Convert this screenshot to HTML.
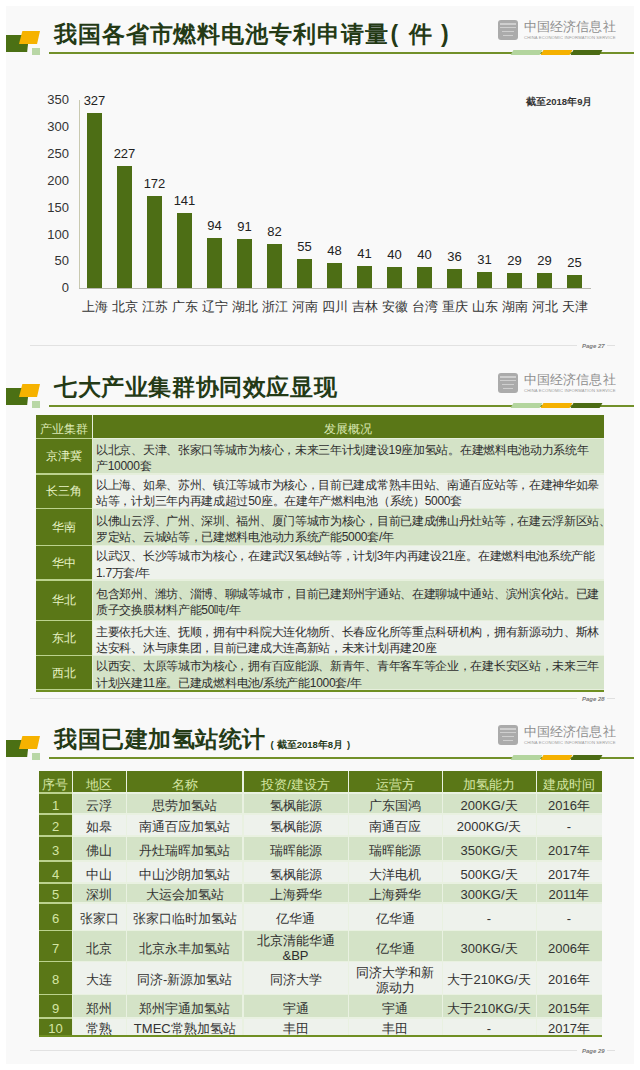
<!DOCTYPE html><html><head><meta charset="utf-8"><style>
*{margin:0;padding:0;box-sizing:border-box}
html,body{width:640px;height:1070px;background:#fff;overflow:hidden;font-family:"Liberation Sans", sans-serif}
.a{position:absolute}
.slide{position:absolute;left:6px;width:628px;height:353px;background:#f9f9f9}
.t{position:absolute;white-space:nowrap;line-height:1}
.title{position:absolute;left:48px;top:13px;font-size:23px;font-weight:900;letter-spacing:0.9px;color:#243a16;white-space:nowrap;line-height:30px}
.uline{position:absolute;left:43px;top:46.2px;width:585px;height:1.8px;background:#72902a}
.seg{position:absolute;top:44px;height:5px;transform:skewX(-30deg)}
.lg1{position:absolute;left:0;top:29px;width:23px;height:17px;background:#4b7014;clip-path:polygon(0 0,100% 0,92% 100%,0 100%)}
.lg2{position:absolute;left:13px;top:25px;width:21px;height:13px;background:#f6b200;clip-path:polygon(16% 0,100% 0,86% 100%,0 100%)}
.lg3{position:absolute;left:25.5px;top:41.5px;width:8px;height:7.5px;background:#b9d7a6}
.ceis{position:absolute;left:492px;top:13.7px;width:20px;height:20.8px;border-radius:3px;background:#ababab;overflow:hidden}
.ceis i{position:absolute;left:2px;width:16px;height:2px;background:#cfcfcf}
.ceis-t{position:absolute;left:518px;top:13px;font-size:12.5px;color:#8e8e8e;letter-spacing:0.1px;white-space:nowrap;line-height:16px;font-weight:300}
.ceis-s{position:absolute;left:518px;top:28.5px;font-size:4.2px;color:#9a9a9a;white-space:nowrap;letter-spacing:0.15px;line-height:5px}
.foot{position:absolute;left:24px;top:339px;width:547px;height:1px;background:#e2e2e2}
.nocjk .z{font-size:133.33%;vertical-align:-0.05em;-webkit-text-stroke:0.015em currentColor}
.nocjk .zp{font-size:133.33%;color:transparent;-webkit-text-stroke:0}
.nocjk .title .z{-webkit-text-stroke:0.07em currentColor}
.page{position:absolute;left:576px;top:335.5px;font-size:6px;color:#7a7a7a;white-space:nowrap;line-height:8px;font-style:italic;font-weight:bold}
.pdash{position:absolute;left:601px;top:339px;width:8px;height:1px;background:#e0e0e0}
</style></head><body>
<div class="slide" style="top:6px">
<div class="lg1"></div><div class="lg2"></div><div class="lg3"></div>
<div class="title"><span class="z">我国各省市燃料电池专利申请量</span><span style="margin:0 10px 0 2px">(</span><span class="z">件</span><span style="margin-left:8px">)</span></div>
<div class="uline"></div>
<div class="seg" style="left:506px;width:29px;background:#b3d59e"></div>
<div class="seg" style="left:536px;width:29px;background:#f5b100"></div>
<div class="seg" style="left:566px;width:29px;background:#4b6b14"></div>
<div class="ceis"><i style="top:3px"></i><i style="top:7px;height:1.5px"></i><i style="top:11px;left:4px;width:12px;height:1.5px"></i><i style="top:15px;left:5px;width:10px;height:1.5px"></i></div>
<div class="ceis-t"><span class="z">中国经济信息社</span></div>
<div class="ceis-s">CHINA ECONOMIC INFORMATION SERVICE</div>
<div class="foot"></div>
<div class="page">Page 27</div><div class="pdash"></div>

<div class="a" style="left:73px;top:94px;width:1px;height:188.3px;background:#c9c9b0"></div>
<div class="a" style="left:73px;top:282.3px;width:512px;height:1px;background:#b8b8b0"></div>
<div class="t" style="right:565px;top:275.3px;font-size:13px;color:#333;text-align:right">0</div>
<div class="t" style="right:565px;top:248.45px;font-size:13px;color:#333;text-align:right">50</div>
<div class="t" style="right:565px;top:221.59px;font-size:13px;color:#333;text-align:right">100</div>
<div class="t" style="right:565px;top:194.74px;font-size:13px;color:#333;text-align:right">150</div>
<div class="t" style="right:565px;top:167.88px;font-size:13px;color:#333;text-align:right">200</div>
<div class="t" style="right:565px;top:141.03px;font-size:13px;color:#333;text-align:right">250</div>
<div class="t" style="right:565px;top:114.17px;font-size:13px;color:#333;text-align:right">300</div>
<div class="t" style="right:565px;top:87.31px;font-size:13px;color:#333;text-align:right">350</div>
<div class="a" style="left:81px;top:106.67px;width:15px;height:175.63px;background:#4d6e15"></div>
<div class="t" style="left:69px;width:39px;text-align:center;top:87.67px;font-size:13px;color:#222">327</div>
<div class="t" style="left:69px;width:39px;text-align:center;top:294px;font-size:13px;color:#333"><span class="z">上海</span></div>
<div class="a" style="left:111px;top:160.38px;width:15px;height:121.92px;background:#4d6e15"></div>
<div class="t" style="left:99px;width:39px;text-align:center;top:141.38px;font-size:13px;color:#222">227</div>
<div class="t" style="left:99px;width:39px;text-align:center;top:294px;font-size:13px;color:#333"><span class="z">北京</span></div>
<div class="a" style="left:141px;top:189.92px;width:15px;height:92.38px;background:#4d6e15"></div>
<div class="t" style="left:129px;width:39px;text-align:center;top:170.92px;font-size:13px;color:#222">172</div>
<div class="t" style="left:129px;width:39px;text-align:center;top:294px;font-size:13px;color:#333"><span class="z">江苏</span></div>
<div class="a" style="left:171px;top:206.57px;width:15px;height:75.73px;background:#4d6e15"></div>
<div class="t" style="left:159px;width:39px;text-align:center;top:187.57px;font-size:13px;color:#222">141</div>
<div class="t" style="left:159px;width:39px;text-align:center;top:294px;font-size:13px;color:#333"><span class="z">广东</span></div>
<div class="a" style="left:201px;top:231.81px;width:15px;height:50.49px;background:#4d6e15"></div>
<div class="t" style="left:189px;width:39px;text-align:center;top:212.81px;font-size:13px;color:#222">94</div>
<div class="t" style="left:189px;width:39px;text-align:center;top:294px;font-size:13px;color:#333"><span class="z">辽宁</span></div>
<div class="a" style="left:231px;top:233.42px;width:15px;height:48.88px;background:#4d6e15"></div>
<div class="t" style="left:219px;width:39px;text-align:center;top:214.42px;font-size:13px;color:#222">91</div>
<div class="t" style="left:219px;width:39px;text-align:center;top:294px;font-size:13px;color:#333"><span class="z">湖北</span></div>
<div class="a" style="left:261px;top:238.26px;width:15px;height:44.04px;background:#4d6e15"></div>
<div class="t" style="left:249px;width:39px;text-align:center;top:219.26px;font-size:13px;color:#222">82</div>
<div class="t" style="left:249px;width:39px;text-align:center;top:294px;font-size:13px;color:#333"><span class="z">浙江</span></div>
<div class="a" style="left:291px;top:252.76px;width:15px;height:29.54px;background:#4d6e15"></div>
<div class="t" style="left:279px;width:39px;text-align:center;top:233.76px;font-size:13px;color:#222">55</div>
<div class="t" style="left:279px;width:39px;text-align:center;top:294px;font-size:13px;color:#333"><span class="z">河南</span></div>
<div class="a" style="left:321px;top:256.52px;width:15px;height:25.78px;background:#4d6e15"></div>
<div class="t" style="left:309px;width:39px;text-align:center;top:237.52px;font-size:13px;color:#222">48</div>
<div class="t" style="left:309px;width:39px;text-align:center;top:294px;font-size:13px;color:#333"><span class="z">四川</span></div>
<div class="a" style="left:351px;top:260.28px;width:15px;height:22.02px;background:#4d6e15"></div>
<div class="t" style="left:339px;width:39px;text-align:center;top:241.28px;font-size:13px;color:#222">41</div>
<div class="t" style="left:339px;width:39px;text-align:center;top:294px;font-size:13px;color:#333"><span class="z">吉林</span></div>
<div class="a" style="left:381px;top:260.82px;width:15px;height:21.48px;background:#4d6e15"></div>
<div class="t" style="left:369px;width:39px;text-align:center;top:241.82px;font-size:13px;color:#222">40</div>
<div class="t" style="left:369px;width:39px;text-align:center;top:294px;font-size:13px;color:#333"><span class="z">安徽</span></div>
<div class="a" style="left:411px;top:260.82px;width:15px;height:21.48px;background:#4d6e15"></div>
<div class="t" style="left:399px;width:39px;text-align:center;top:241.82px;font-size:13px;color:#222">40</div>
<div class="t" style="left:399px;width:39px;text-align:center;top:294px;font-size:13px;color:#333"><span class="z">台湾</span></div>
<div class="a" style="left:441px;top:262.96px;width:15px;height:19.34px;background:#4d6e15"></div>
<div class="t" style="left:429px;width:39px;text-align:center;top:243.96px;font-size:13px;color:#222">36</div>
<div class="t" style="left:429px;width:39px;text-align:center;top:294px;font-size:13px;color:#333"><span class="z">重庆</span></div>
<div class="a" style="left:471px;top:265.65px;width:15px;height:16.65px;background:#4d6e15"></div>
<div class="t" style="left:459px;width:39px;text-align:center;top:246.65px;font-size:13px;color:#222">31</div>
<div class="t" style="left:459px;width:39px;text-align:center;top:294px;font-size:13px;color:#333"><span class="z">山东</span></div>
<div class="a" style="left:501px;top:266.72px;width:15px;height:15.58px;background:#4d6e15"></div>
<div class="t" style="left:489px;width:39px;text-align:center;top:247.72px;font-size:13px;color:#222">29</div>
<div class="t" style="left:489px;width:39px;text-align:center;top:294px;font-size:13px;color:#333"><span class="z">湖南</span></div>
<div class="a" style="left:531px;top:266.72px;width:15px;height:15.58px;background:#4d6e15"></div>
<div class="t" style="left:519px;width:39px;text-align:center;top:247.72px;font-size:13px;color:#222">29</div>
<div class="t" style="left:519px;width:39px;text-align:center;top:294px;font-size:13px;color:#333"><span class="z">河北</span></div>
<div class="a" style="left:561px;top:268.87px;width:15px;height:13.43px;background:#4d6e15"></div>
<div class="t" style="left:549px;width:39px;text-align:center;top:249.87px;font-size:13px;color:#222">25</div>
<div class="t" style="left:549px;width:39px;text-align:center;top:294px;font-size:13px;color:#333"><span class="z">天津</span></div>
<div class="t" style="left:520px;top:90.5px;font-size:9.5px;font-weight:bold;color:#333"><span class="z">截至</span>2018<span class="z">年</span>9<span class="z">月</span></div>
</div>
<div class="slide" style="top:359px">
<div class="lg1"></div><div class="lg2"></div><div class="lg3"></div>
<div class="title"><span style="letter-spacing:0.6px"><span class="z">七大产业集群协同效应显现</span></span></div>
<div class="uline"></div>
<div class="seg" style="left:506px;width:29px;background:#b3d59e"></div>
<div class="seg" style="left:536px;width:29px;background:#f5b100"></div>
<div class="seg" style="left:566px;width:29px;background:#4b6b14"></div>
<div class="ceis"><i style="top:3px"></i><i style="top:7px;height:1.5px"></i><i style="top:11px;left:4px;width:12px;height:1.5px"></i><i style="top:15px;left:5px;width:10px;height:1.5px"></i></div>
<div class="ceis-t"><span class="z">中国经济信息社</span></div>
<div class="ceis-s">CHINA ECONOMIC INFORMATION SERVICE</div>
<div class="foot"></div>
<div class="page">Page 28</div><div class="pdash"></div>

<div class="a" style="left:30px;top:55.5px;width:568px;height:275.7px;background:#e6efdc"></div>
<div class="a" style="left:30px;top:55.5px;width:56px;height:275.7px;background:#bcd28e"></div>
<div class="a" style="left:30px;top:55.5px;width:55.5px;height:23.35px;background:#5a7717"></div>
<div class="a" style="left:86.5px;top:55.5px;width:511.5px;height:23.35px;background:#5a7717"></div>
<div class="t" style="left:30px;width:56px;text-align:center;top:62.5px;font-size:12px;line-height:14px;color:#dbe8b4"><span class="z">产业集群</span></div>
<div class="t" style="left:86px;width:512px;text-align:center;top:62.5px;font-size:12px;line-height:14px;color:#dbe8b4"><span class="z">发展概况</span></div>
<div class="a" style="left:30px;top:330.7px;width:568px;height:2px;background:#6f8f22"></div>
<div class="a" style="left:30px;top:80.35px;width:55.5px;height:33.9px;background:#5a7717"></div>
<div class="a" style="left:86.5px;top:80.35px;width:511.5px;height:33.9px;background:#d4e3c7"></div>
<div class="t" style="left:30px;width:56px;text-align:center;top:90.3px;font-size:12px;line-height:14px;color:#e8f3c6;font-weight:500"><span class="z">京津冀</span></div>
<div class="t" style="left:90px;top:83.8px;font-size:12px;letter-spacing:-0.3px;line-height:14px;color:#2e2e2e;font-weight:500"><span class="z">以北京</span><span class="zp">、</span><span class="z">天津</span><span class="zp">、</span><span class="z">张家口等城市为核心</span><span class="zp">，</span><span class="z">未来三年计划建设</span>19<span class="z">座加氢站</span><span class="zp">。</span><span class="z">在建燃料电池动力系统年</span></div>
<div class="t" style="left:90px;top:100.3px;font-size:12px;letter-spacing:-0.3px;line-height:14px;color:#2e2e2e;font-weight:500"><span class="z">产</span>10000<span class="z">套</span></div>
<div class="a" style="left:30px;top:115.75px;width:55.5px;height:33.1px;background:#5a7717"></div>
<div class="a" style="left:86.5px;top:115.75px;width:511.5px;height:33.1px;background:#eef2ec"></div>
<div class="t" style="left:30px;width:56px;text-align:center;top:125.3px;font-size:12px;line-height:14px;color:#e8f3c6;font-weight:500"><span class="z">长三角</span></div>
<div class="t" style="left:90px;top:118.8px;font-size:12px;letter-spacing:-0.3px;line-height:14px;color:#2e2e2e;font-weight:500"><span class="z">以上海</span><span class="zp">、</span><span class="z">如皋</span><span class="zp">、</span><span class="z">苏州</span><span class="zp">、</span><span class="z">镇江等城市为核心</span><span class="zp">，</span><span class="z">目前已建成常熟丰田站</span><span class="zp">、</span><span class="z">南通百应站等</span><span class="zp">，</span><span class="z">在建神华如皋</span></div>
<div class="t" style="left:90px;top:135.3px;font-size:12px;letter-spacing:-0.3px;line-height:14px;color:#2e2e2e;font-weight:500"><span class="z">站等</span><span class="zp">，</span><span class="z">计划三年内再建成超过</span>50<span class="z">座</span><span class="zp">。</span><span class="z">在建年产燃料电池</span><span class="zp">（</span><span class="z">系统</span><span class="zp">）</span>5000<span class="z">套</span></div>
<div class="a" style="left:30px;top:150.35px;width:55.5px;height:35.4px;background:#5a7717"></div>
<div class="a" style="left:86.5px;top:150.35px;width:511.5px;height:35.4px;background:#d4e3c7"></div>
<div class="t" style="left:30px;width:56px;text-align:center;top:161.05px;font-size:12px;line-height:14px;color:#e8f3c6;font-weight:500"><span class="z">华南</span></div>
<div class="t" style="left:90px;top:154.55px;font-size:12px;letter-spacing:-0.3px;line-height:14px;color:#2e2e2e;font-weight:500"><span class="z">以佛山云浮</span><span class="zp">、</span><span class="z">广州</span><span class="zp">、</span><span class="z">深圳</span><span class="zp">、</span><span class="z">福州</span><span class="zp">、</span><span class="z">厦门等城市为核心</span><span class="zp">，</span><span class="z">目前已建成佛山丹灶站等</span><span class="zp">，</span><span class="z">在建云浮新区站</span><span class="zp">、</span></div>
<div class="t" style="left:90px;top:171.05px;font-size:12px;letter-spacing:-0.3px;line-height:14px;color:#2e2e2e;font-weight:500"><span class="z">罗定站</span><span class="zp">、</span><span class="z">云城站等</span><span class="zp">，</span><span class="z">已建燃料电池动力系统产能</span>5000<span class="z">套</span>/<span class="z">年</span></div>
<div class="a" style="left:30px;top:187.25px;width:55.5px;height:33.0px;background:#5a7717"></div>
<div class="a" style="left:86.5px;top:187.25px;width:511.5px;height:33.0px;background:#eef2ec"></div>
<div class="t" style="left:30px;width:56px;text-align:center;top:196.75px;font-size:12px;line-height:14px;color:#e8f3c6;font-weight:500"><span class="z">华中</span></div>
<div class="t" style="left:90px;top:190.25px;font-size:12px;letter-spacing:-0.3px;line-height:14px;color:#2e2e2e;font-weight:500"><span class="z">以武汉</span><span class="zp">、</span><span class="z">长沙等城市为核心</span><span class="zp">，</span><span class="z">在建武汉氢雄站等</span><span class="zp">，</span><span class="z">计划</span>3<span class="z">年内再建设</span>21<span class="z">座</span><span class="zp">。</span><span class="z">在建燃料电池系统产能</span></div>
<div class="t" style="left:90px;top:206.75px;font-size:12px;letter-spacing:-0.3px;line-height:14px;color:#2e2e2e;font-weight:500">1.7<span class="z">万套</span>/<span class="z">年</span></div>
<div class="a" style="left:30px;top:221.75px;width:55.5px;height:39.1px;background:#5a7717"></div>
<div class="a" style="left:86.5px;top:221.75px;width:511.5px;height:39.1px;background:#d4e3c7"></div>
<div class="t" style="left:30px;width:56px;text-align:center;top:234.3px;font-size:12px;line-height:14px;color:#e8f3c6;font-weight:500"><span class="z">华北</span></div>
<div class="t" style="left:90px;top:227.8px;font-size:12px;letter-spacing:-0.3px;line-height:14px;color:#2e2e2e;font-weight:500"><span class="z">包含郑州</span><span class="zp">、</span><span class="z">潍坊</span><span class="zp">、</span><span class="z">淄博</span><span class="zp">、</span><span class="z">聊城等城市</span><span class="zp">，</span><span class="z">目前已建郑州宇通站</span><span class="zp">、</span><span class="z">在建聊城中通站</span><span class="zp">、</span><span class="z">滨州滨化站</span><span class="zp">。</span><span class="z">已建</span></div>
<div class="t" style="left:90px;top:244.3px;font-size:12px;letter-spacing:-0.3px;line-height:14px;color:#2e2e2e;font-weight:500"><span class="z">质子交换膜材料产能</span>50<span class="z">吨</span>/<span class="z">年</span></div>
<div class="a" style="left:30px;top:262.35px;width:55.5px;height:33.6px;background:#5a7717"></div>
<div class="a" style="left:86.5px;top:262.35px;width:511.5px;height:33.6px;background:#eef2ec"></div>
<div class="t" style="left:30px;width:56px;text-align:center;top:272.15px;font-size:12px;line-height:14px;color:#e8f3c6;font-weight:500"><span class="z">东北</span></div>
<div class="t" style="left:90px;top:265.65px;font-size:12px;letter-spacing:-0.3px;line-height:14px;color:#2e2e2e;font-weight:500"><span class="z">主要依托大连</span><span class="zp">、</span><span class="z">抚顺</span><span class="zp">，</span><span class="z">拥有中科院大连化物所</span><span class="zp">、</span><span class="z">长春应化所等重点科研机构</span><span class="zp">，</span><span class="z">拥有新源动力</span><span class="zp">、</span><span class="z">斯林</span></div>
<div class="t" style="left:90px;top:282.15px;font-size:12px;letter-spacing:-0.3px;line-height:14px;color:#2e2e2e;font-weight:500"><span class="z">达安科</span><span class="zp">、</span><span class="z">沐与康集团</span><span class="zp">，</span><span class="z">目前已建成大连高新站</span><span class="zp">，</span><span class="z">未来计划再建</span>20<span class="z">座</span></div>
<div class="a" style="left:30px;top:297.45px;width:55.5px;height:33.0px;background:#5a7717"></div>
<div class="a" style="left:86.5px;top:297.45px;width:511.5px;height:33.0px;background:#d4e3c7"></div>
<div class="t" style="left:30px;width:56px;text-align:center;top:306.95px;font-size:12px;line-height:14px;color:#e8f3c6;font-weight:500"><span class="z">西北</span></div>
<div class="t" style="left:90px;top:300.45px;font-size:12px;letter-spacing:-0.3px;line-height:14px;color:#2e2e2e;font-weight:500"><span class="z">以西安</span><span class="zp">、</span><span class="z">太原等城市为核心</span><span class="zp">，</span><span class="z">拥有百应能源</span><span class="zp">、</span><span class="z">新青年</span><span class="zp">、</span><span class="z">青年客车等企业</span><span class="zp">，</span><span class="z">在建长安区站</span><span class="zp">，</span><span class="z">未来三年</span></div>
<div class="t" style="left:90px;top:316.95px;font-size:12px;letter-spacing:-0.3px;line-height:14px;color:#2e2e2e;font-weight:500"><span class="z">计划兴建</span>11<span class="z">座</span><span class="zp">。</span><span class="z">已建成燃料电池</span>/<span class="z">系统产能</span>1000<span class="z">套</span>/<span class="z">年</span></div>
</div>
<div class="slide" style="top:711px">
<div class="lg1"></div><div class="lg2"></div><div class="lg3"></div>
<div class="title"><span style="letter-spacing:0.5px"><span class="z">我国已建加氢站统计</span></span><span style="font-size:9.5px;margin-left:5px;vertical-align:-1px;letter-spacing:0">(<span style="margin:0 4px 0 3px"><span class="z">截至</span>2018<span class="z">年</span>8<span class="z">月</span></span>)</span></div>
<div class="uline"></div>
<div class="seg" style="left:506px;width:29px;background:#b3d59e"></div>
<div class="seg" style="left:536px;width:29px;background:#f5b100"></div>
<div class="seg" style="left:566px;width:29px;background:#4b6b14"></div>
<div class="ceis"><i style="top:3px"></i><i style="top:7px;height:1.5px"></i><i style="top:11px;left:4px;width:12px;height:1.5px"></i><i style="top:15px;left:5px;width:10px;height:1.5px"></i></div>
<div class="ceis-t"><span class="z">中国经济信息社</span></div>
<div class="ceis-s">CHINA ECONOMIC INFORMATION SERVICE</div>
<div class="foot"></div>
<div class="page">Page 29</div><div class="pdash"></div>

<div class="a" style="left:32.8px;top:60px;width:563.2px;height:266.0px;background:#e9f1e1"></div>
<div class="a" style="left:32.8px;top:60px;width:33.4px;height:264.5px;background:#bcd28e"></div>
<div class="a" style="left:32.8px;top:324.0px;width:563.2px;height:2px;background:#6f8f22"></div>
<div class="a" style="left:32.8px;top:60px;width:32.9px;height:21.35px;background:#5a7717"></div>
<div class="t" style="left:32.8px;width:33.4px;text-align:center;top:65.5px;font-size:13px;line-height:15px;color:#d5e6a4"><span class="z">序号</span></div>
<div class="a" style="left:66.7px;top:60px;width:53.4px;height:21.35px;background:#5a7717"></div>
<div class="t" style="left:66.2px;width:54.4px;text-align:center;top:65.5px;font-size:13px;line-height:15px;color:#d5e6a4"><span class="z">地区</span></div>
<div class="a" style="left:121.1px;top:60px;width:115.4px;height:21.35px;background:#5a7717"></div>
<div class="t" style="left:120.6px;width:116.4px;text-align:center;top:65.5px;font-size:13px;line-height:15px;color:#d5e6a4"><span class="z">名称</span></div>
<div class="a" style="left:237.5px;top:60px;width:104.0px;height:21.35px;background:#5a7717"></div>
<div class="t" style="left:237px;width:105px;text-align:center;top:65.5px;font-size:13px;line-height:15px;color:#d5e6a4"><span class="z">投资</span>/<span class="z">建设方</span></div>
<div class="a" style="left:342.5px;top:60px;width:93.0px;height:21.35px;background:#5a7717"></div>
<div class="t" style="left:342px;width:94px;text-align:center;top:65.5px;font-size:13px;line-height:15px;color:#d5e6a4"><span class="z">运营方</span></div>
<div class="a" style="left:436.5px;top:60px;width:93.0px;height:21.35px;background:#5a7717"></div>
<div class="t" style="left:436px;width:94px;text-align:center;top:65.5px;font-size:13px;line-height:15px;color:#d5e6a4"><span class="z">加氢能力</span></div>
<div class="a" style="left:530.5px;top:60px;width:65.5px;height:21.35px;background:#5a7717"></div>
<div class="t" style="left:530px;width:66px;text-align:center;top:65.5px;font-size:13px;line-height:15px;color:#d5e6a4"><span class="z">建成时间</span></div>
<div class="a" style="left:32.8px;top:82.85px;width:32.9px;height:19.3px;background:#5a7717"></div>
<div class="t" style="left:32.8px;width:33.4px;text-align:center;top:87.0px;font-size:13px;line-height:15px;color:#d5e6a4;font-weight:500">1</div>
<div class="a" style="left:66.7px;top:82.85px;width:53.4px;height:19.3px;background:#d4e3c7"></div>
<div class="t" style="left:66.2px;width:54.4px;text-align:center;top:87.0px;font-size:13px;line-height:15px;color:#333;font-weight:500"><span class="z">云浮</span></div>
<div class="a" style="left:121.1px;top:82.85px;width:115.4px;height:19.3px;background:#d4e3c7"></div>
<div class="t" style="left:120.6px;width:116.4px;text-align:center;top:87.0px;font-size:13px;line-height:15px;color:#333;font-weight:500"><span class="z">思劳加氢站</span></div>
<div class="a" style="left:237.5px;top:82.85px;width:104.0px;height:19.3px;background:#d4e3c7"></div>
<div class="t" style="left:237px;width:105px;text-align:center;top:87.0px;font-size:13px;line-height:15px;color:#333;font-weight:500"><span class="z">氢枫能源</span></div>
<div class="a" style="left:342.5px;top:82.85px;width:93.0px;height:19.3px;background:#d4e3c7"></div>
<div class="t" style="left:342px;width:94px;text-align:center;top:87.0px;font-size:13px;line-height:15px;color:#333;font-weight:500"><span class="z">广东国鸿</span></div>
<div class="a" style="left:436.5px;top:82.85px;width:93.0px;height:19.3px;background:#d4e3c7"></div>
<div class="t" style="left:436px;width:94px;text-align:center;top:87.0px;font-size:13px;line-height:15px;color:#333;font-weight:500">200KG/<span class="z">天</span></div>
<div class="a" style="left:530.5px;top:82.85px;width:65.5px;height:19.3px;background:#d4e3c7"></div>
<div class="t" style="left:530px;width:66px;text-align:center;top:87.0px;font-size:13px;line-height:15px;color:#333;font-weight:500">2016<span class="z">年</span></div>
<div class="a" style="left:32.8px;top:103.65px;width:32.9px;height:20.6px;background:#5a7717"></div>
<div class="t" style="left:32.8px;width:33.4px;text-align:center;top:108.45px;font-size:13px;line-height:15px;color:#d5e6a4;font-weight:500">2</div>
<div class="a" style="left:66.7px;top:103.65px;width:53.4px;height:20.6px;background:#eef2ec"></div>
<div class="t" style="left:66.2px;width:54.4px;text-align:center;top:108.45px;font-size:13px;line-height:15px;color:#333;font-weight:500"><span class="z">如皋</span></div>
<div class="a" style="left:121.1px;top:103.65px;width:115.4px;height:20.6px;background:#eef2ec"></div>
<div class="t" style="left:120.6px;width:116.4px;text-align:center;top:108.45px;font-size:13px;line-height:15px;color:#333;font-weight:500"><span class="z">南通百应加氢站</span></div>
<div class="a" style="left:237.5px;top:103.65px;width:104.0px;height:20.6px;background:#eef2ec"></div>
<div class="t" style="left:237px;width:105px;text-align:center;top:108.45px;font-size:13px;line-height:15px;color:#333;font-weight:500"><span class="z">氢枫能源</span></div>
<div class="a" style="left:342.5px;top:103.65px;width:93.0px;height:20.6px;background:#eef2ec"></div>
<div class="t" style="left:342px;width:94px;text-align:center;top:108.45px;font-size:13px;line-height:15px;color:#333;font-weight:500"><span class="z">南通百应</span></div>
<div class="a" style="left:436.5px;top:103.65px;width:93.0px;height:20.6px;background:#eef2ec"></div>
<div class="t" style="left:436px;width:94px;text-align:center;top:108.45px;font-size:13px;line-height:15px;color:#333;font-weight:500">2000KG/<span class="z">天</span></div>
<div class="a" style="left:530.5px;top:103.65px;width:65.5px;height:20.6px;background:#eef2ec"></div>
<div class="t" style="left:530px;width:66px;text-align:center;top:108.45px;font-size:13px;line-height:15px;color:#333;font-weight:500">-</div>
<div class="a" style="left:32.8px;top:125.75px;width:32.9px;height:23.5px;background:#5a7717"></div>
<div class="t" style="left:32.8px;width:33.4px;text-align:center;top:132.0px;font-size:13px;line-height:15px;color:#d5e6a4;font-weight:500">3</div>
<div class="a" style="left:66.7px;top:125.75px;width:53.4px;height:23.5px;background:#d4e3c7"></div>
<div class="t" style="left:66.2px;width:54.4px;text-align:center;top:132.0px;font-size:13px;line-height:15px;color:#333;font-weight:500"><span class="z">佛山</span></div>
<div class="a" style="left:121.1px;top:125.75px;width:115.4px;height:23.5px;background:#d4e3c7"></div>
<div class="t" style="left:120.6px;width:116.4px;text-align:center;top:132.0px;font-size:13px;line-height:15px;color:#333;font-weight:500"><span class="z">丹灶瑞晖加氢站</span></div>
<div class="a" style="left:237.5px;top:125.75px;width:104.0px;height:23.5px;background:#d4e3c7"></div>
<div class="t" style="left:237px;width:105px;text-align:center;top:132.0px;font-size:13px;line-height:15px;color:#333;font-weight:500"><span class="z">瑞晖能源</span></div>
<div class="a" style="left:342.5px;top:125.75px;width:93.0px;height:23.5px;background:#d4e3c7"></div>
<div class="t" style="left:342px;width:94px;text-align:center;top:132.0px;font-size:13px;line-height:15px;color:#333;font-weight:500"><span class="z">瑞晖能源</span></div>
<div class="a" style="left:436.5px;top:125.75px;width:93.0px;height:23.5px;background:#d4e3c7"></div>
<div class="t" style="left:436px;width:94px;text-align:center;top:132.0px;font-size:13px;line-height:15px;color:#333;font-weight:500">350KG/<span class="z">天</span></div>
<div class="a" style="left:530.5px;top:125.75px;width:65.5px;height:23.5px;background:#d4e3c7"></div>
<div class="t" style="left:530px;width:66px;text-align:center;top:132.0px;font-size:13px;line-height:15px;color:#333;font-weight:500">2017<span class="z">年</span></div>
<div class="a" style="left:32.8px;top:150.75px;width:32.9px;height:20.5px;background:#5a7717"></div>
<div class="t" style="left:32.8px;width:33.4px;text-align:center;top:155.5px;font-size:13px;line-height:15px;color:#d5e6a4;font-weight:500">4</div>
<div class="a" style="left:66.7px;top:150.75px;width:53.4px;height:20.5px;background:#eef2ec"></div>
<div class="t" style="left:66.2px;width:54.4px;text-align:center;top:155.5px;font-size:13px;line-height:15px;color:#333;font-weight:500"><span class="z">中山</span></div>
<div class="a" style="left:121.1px;top:150.75px;width:115.4px;height:20.5px;background:#eef2ec"></div>
<div class="t" style="left:120.6px;width:116.4px;text-align:center;top:155.5px;font-size:13px;line-height:15px;color:#333;font-weight:500"><span class="z">中山沙朗加氢站</span></div>
<div class="a" style="left:237.5px;top:150.75px;width:104.0px;height:20.5px;background:#eef2ec"></div>
<div class="t" style="left:237px;width:105px;text-align:center;top:155.5px;font-size:13px;line-height:15px;color:#333;font-weight:500"><span class="z">氢枫能源</span></div>
<div class="a" style="left:342.5px;top:150.75px;width:93.0px;height:20.5px;background:#eef2ec"></div>
<div class="t" style="left:342px;width:94px;text-align:center;top:155.5px;font-size:13px;line-height:15px;color:#333;font-weight:500"><span class="z">大洋电机</span></div>
<div class="a" style="left:436.5px;top:150.75px;width:93.0px;height:20.5px;background:#eef2ec"></div>
<div class="t" style="left:436px;width:94px;text-align:center;top:155.5px;font-size:13px;line-height:15px;color:#333;font-weight:500">500KG/<span class="z">天</span></div>
<div class="a" style="left:530.5px;top:150.75px;width:65.5px;height:20.5px;background:#eef2ec"></div>
<div class="t" style="left:530px;width:66px;text-align:center;top:155.5px;font-size:13px;line-height:15px;color:#333;font-weight:500">2017<span class="z">年</span></div>
<div class="a" style="left:32.8px;top:172.75px;width:32.9px;height:18.3px;background:#5a7717"></div>
<div class="t" style="left:32.8px;width:33.4px;text-align:center;top:176.4px;font-size:13px;line-height:15px;color:#d5e6a4;font-weight:500">5</div>
<div class="a" style="left:66.7px;top:172.75px;width:53.4px;height:18.3px;background:#d4e3c7"></div>
<div class="t" style="left:66.2px;width:54.4px;text-align:center;top:176.4px;font-size:13px;line-height:15px;color:#333;font-weight:500"><span class="z">深圳</span></div>
<div class="a" style="left:121.1px;top:172.75px;width:115.4px;height:18.3px;background:#d4e3c7"></div>
<div class="t" style="left:120.6px;width:116.4px;text-align:center;top:176.4px;font-size:13px;line-height:15px;color:#333;font-weight:500"><span class="z">大运会加氢站</span></div>
<div class="a" style="left:237.5px;top:172.75px;width:104.0px;height:18.3px;background:#d4e3c7"></div>
<div class="t" style="left:237px;width:105px;text-align:center;top:176.4px;font-size:13px;line-height:15px;color:#333;font-weight:500"><span class="z">上海舜华</span></div>
<div class="a" style="left:342.5px;top:172.75px;width:93.0px;height:18.3px;background:#d4e3c7"></div>
<div class="t" style="left:342px;width:94px;text-align:center;top:176.4px;font-size:13px;line-height:15px;color:#333;font-weight:500"><span class="z">上海舜华</span></div>
<div class="a" style="left:436.5px;top:172.75px;width:93.0px;height:18.3px;background:#d4e3c7"></div>
<div class="t" style="left:436px;width:94px;text-align:center;top:176.4px;font-size:13px;line-height:15px;color:#333;font-weight:500">300KG/<span class="z">天</span></div>
<div class="a" style="left:530.5px;top:172.75px;width:65.5px;height:18.3px;background:#d4e3c7"></div>
<div class="t" style="left:530px;width:66px;text-align:center;top:176.4px;font-size:13px;line-height:15px;color:#333;font-weight:500">2011<span class="z">年</span></div>
<div class="a" style="left:32.8px;top:192.55px;width:32.9px;height:26.3px;background:#5a7717"></div>
<div class="t" style="left:32.8px;width:33.4px;text-align:center;top:200.2px;font-size:13px;line-height:15px;color:#d5e6a4;font-weight:500">6</div>
<div class="a" style="left:66.7px;top:192.55px;width:53.4px;height:26.3px;background:#eef2ec"></div>
<div class="t" style="left:66.2px;width:54.4px;text-align:center;top:200.2px;font-size:13px;line-height:15px;color:#333;font-weight:500"><span class="z">张家口</span></div>
<div class="a" style="left:121.1px;top:192.55px;width:115.4px;height:26.3px;background:#eef2ec"></div>
<div class="t" style="left:120.6px;width:116.4px;text-align:center;top:200.2px;font-size:13px;line-height:15px;color:#333;font-weight:500"><span class="z">张家口临时加氢站</span></div>
<div class="a" style="left:237.5px;top:192.55px;width:104.0px;height:26.3px;background:#eef2ec"></div>
<div class="t" style="left:237px;width:105px;text-align:center;top:200.2px;font-size:13px;line-height:15px;color:#333;font-weight:500"><span class="z">亿华通</span></div>
<div class="a" style="left:342.5px;top:192.55px;width:93.0px;height:26.3px;background:#eef2ec"></div>
<div class="t" style="left:342px;width:94px;text-align:center;top:200.2px;font-size:13px;line-height:15px;color:#333;font-weight:500"><span class="z">亿华通</span></div>
<div class="a" style="left:436.5px;top:192.55px;width:93.0px;height:26.3px;background:#eef2ec"></div>
<div class="t" style="left:436px;width:94px;text-align:center;top:200.2px;font-size:13px;line-height:15px;color:#333;font-weight:500">-</div>
<div class="a" style="left:530.5px;top:192.55px;width:65.5px;height:26.3px;background:#eef2ec"></div>
<div class="t" style="left:530px;width:66px;text-align:center;top:200.2px;font-size:13px;line-height:15px;color:#333;font-weight:500">-</div>
<div class="a" style="left:32.8px;top:220.35px;width:32.9px;height:29.4px;background:#5a7717"></div>
<div class="t" style="left:32.8px;width:33.4px;text-align:center;top:229.55px;font-size:13px;line-height:15px;color:#d5e6a4;font-weight:500">7</div>
<div class="a" style="left:66.7px;top:220.35px;width:53.4px;height:29.4px;background:#d4e3c7"></div>
<div class="t" style="left:66.2px;width:54.4px;text-align:center;top:229.55px;font-size:13px;line-height:15px;color:#333;font-weight:500"><span class="z">北京</span></div>
<div class="a" style="left:121.1px;top:220.35px;width:115.4px;height:29.4px;background:#d4e3c7"></div>
<div class="t" style="left:120.6px;width:116.4px;text-align:center;top:229.55px;font-size:13px;line-height:15px;color:#333;font-weight:500"><span class="z">北京永丰加氢站</span></div>
<div class="a" style="left:237.5px;top:220.35px;width:104.0px;height:29.4px;background:#d4e3c7"></div>
<div class="t" style="left:237px;width:105px;text-align:center;top:222.05px;font-size:13px;line-height:15px;color:#2e2e2e;font-weight:500"><span class="z">北京清能华通</span><br>&amp;BP</div>
<div class="a" style="left:342.5px;top:220.35px;width:93.0px;height:29.4px;background:#d4e3c7"></div>
<div class="t" style="left:342px;width:94px;text-align:center;top:229.55px;font-size:13px;line-height:15px;color:#333;font-weight:500"><span class="z">亿华通</span></div>
<div class="a" style="left:436.5px;top:220.35px;width:93.0px;height:29.4px;background:#d4e3c7"></div>
<div class="t" style="left:436px;width:94px;text-align:center;top:229.55px;font-size:13px;line-height:15px;color:#333;font-weight:500">300KG/<span class="z">天</span></div>
<div class="a" style="left:530.5px;top:220.35px;width:65.5px;height:29.4px;background:#d4e3c7"></div>
<div class="t" style="left:530px;width:66px;text-align:center;top:229.55px;font-size:13px;line-height:15px;color:#333;font-weight:500">2006<span class="z">年</span></div>
<div class="a" style="left:32.8px;top:251.25px;width:32.9px;height:31.3px;background:#5a7717"></div>
<div class="t" style="left:32.8px;width:33.4px;text-align:center;top:261.4px;font-size:13px;line-height:15px;color:#d5e6a4;font-weight:500">8</div>
<div class="a" style="left:66.7px;top:251.25px;width:53.4px;height:31.3px;background:#eef2ec"></div>
<div class="t" style="left:66.2px;width:54.4px;text-align:center;top:261.4px;font-size:13px;line-height:15px;color:#333;font-weight:500"><span class="z">大连</span></div>
<div class="a" style="left:121.1px;top:251.25px;width:115.4px;height:31.3px;background:#eef2ec"></div>
<div class="t" style="left:120.6px;width:116.4px;text-align:center;top:261.4px;font-size:13px;line-height:15px;color:#333;font-weight:500"><span class="z">同济</span>-<span class="z">新源加氢站</span></div>
<div class="a" style="left:237.5px;top:251.25px;width:104.0px;height:31.3px;background:#eef2ec"></div>
<div class="t" style="left:237px;width:105px;text-align:center;top:261.4px;font-size:13px;line-height:15px;color:#333;font-weight:500"><span class="z">同济大学</span></div>
<div class="a" style="left:342.5px;top:251.25px;width:93.0px;height:31.3px;background:#eef2ec"></div>
<div class="t" style="left:342px;width:94px;text-align:center;top:253.9px;font-size:13px;line-height:15px;color:#2e2e2e;font-weight:500"><span class="z">同济大学和新</span><br><span class="z">源动力</span></div>
<div class="a" style="left:436.5px;top:251.25px;width:93.0px;height:31.3px;background:#eef2ec"></div>
<div class="t" style="left:436px;width:94px;text-align:center;top:261.4px;font-size:13px;line-height:15px;color:#333;font-weight:500"><span class="z">大于</span>210KG/<span class="z">天</span></div>
<div class="a" style="left:530.5px;top:251.25px;width:65.5px;height:31.3px;background:#eef2ec"></div>
<div class="t" style="left:530px;width:66px;text-align:center;top:261.4px;font-size:13px;line-height:15px;color:#333;font-weight:500">2016<span class="z">年</span></div>
<div class="a" style="left:32.8px;top:284.05px;width:32.9px;height:22.4px;background:#5a7717"></div>
<div class="t" style="left:32.8px;width:33.4px;text-align:center;top:289.75px;font-size:13px;line-height:15px;color:#d5e6a4;font-weight:500">9</div>
<div class="a" style="left:66.7px;top:284.05px;width:53.4px;height:22.4px;background:#d4e3c7"></div>
<div class="t" style="left:66.2px;width:54.4px;text-align:center;top:289.75px;font-size:13px;line-height:15px;color:#333;font-weight:500"><span class="z">郑州</span></div>
<div class="a" style="left:121.1px;top:284.05px;width:115.4px;height:22.4px;background:#d4e3c7"></div>
<div class="t" style="left:120.6px;width:116.4px;text-align:center;top:289.75px;font-size:13px;line-height:15px;color:#333;font-weight:500"><span class="z">郑州宇通加氢站</span></div>
<div class="a" style="left:237.5px;top:284.05px;width:104.0px;height:22.4px;background:#d4e3c7"></div>
<div class="t" style="left:237px;width:105px;text-align:center;top:289.75px;font-size:13px;line-height:15px;color:#333;font-weight:500"><span class="z">宇通</span></div>
<div class="a" style="left:342.5px;top:284.05px;width:93.0px;height:22.4px;background:#d4e3c7"></div>
<div class="t" style="left:342px;width:94px;text-align:center;top:289.75px;font-size:13px;line-height:15px;color:#333;font-weight:500"><span class="z">宇通</span></div>
<div class="a" style="left:436.5px;top:284.05px;width:93.0px;height:22.4px;background:#d4e3c7"></div>
<div class="t" style="left:436px;width:94px;text-align:center;top:289.75px;font-size:13px;line-height:15px;color:#333;font-weight:500"><span class="z">大于</span>210KG/<span class="z">天</span></div>
<div class="a" style="left:530.5px;top:284.05px;width:65.5px;height:22.4px;background:#d4e3c7"></div>
<div class="t" style="left:530px;width:66px;text-align:center;top:289.75px;font-size:13px;line-height:15px;color:#333;font-weight:500">2015<span class="z">年</span></div>
<div class="a" style="left:32.8px;top:307.95px;width:32.9px;height:16.55px;background:#5a7717"></div>
<div class="t" style="left:32.8px;width:33.4px;text-align:center;top:310.35px;font-size:13px;line-height:15px;color:#d5e6a4;font-weight:500">10</div>
<div class="a" style="left:66.7px;top:307.95px;width:53.4px;height:16.55px;background:#eef2ec"></div>
<div class="t" style="left:66.2px;width:54.4px;text-align:center;top:310.35px;font-size:13px;line-height:15px;color:#333;font-weight:500"><span class="z">常熟</span></div>
<div class="a" style="left:121.1px;top:307.95px;width:115.4px;height:16.55px;background:#eef2ec"></div>
<div class="t" style="left:120.6px;width:116.4px;text-align:center;top:310.35px;font-size:13px;line-height:15px;color:#333;font-weight:500">TMEC<span class="z">常熟加氢站</span></div>
<div class="a" style="left:237.5px;top:307.95px;width:104.0px;height:16.55px;background:#eef2ec"></div>
<div class="t" style="left:237px;width:105px;text-align:center;top:310.35px;font-size:13px;line-height:15px;color:#333;font-weight:500"><span class="z">丰田</span></div>
<div class="a" style="left:342.5px;top:307.95px;width:93.0px;height:16.55px;background:#eef2ec"></div>
<div class="t" style="left:342px;width:94px;text-align:center;top:310.35px;font-size:13px;line-height:15px;color:#333;font-weight:500"><span class="z">丰田</span></div>
<div class="a" style="left:436.5px;top:307.95px;width:93.0px;height:16.55px;background:#eef2ec"></div>
<div class="t" style="left:436px;width:94px;text-align:center;top:310.35px;font-size:13px;line-height:15px;color:#333;font-weight:500">-</div>
<div class="a" style="left:530.5px;top:307.95px;width:65.5px;height:16.55px;background:#eef2ec"></div>
<div class="t" style="left:530px;width:66px;text-align:center;top:310.35px;font-size:13px;line-height:15px;color:#333;font-weight:500">2017<span class="z">年</span></div>
</div>
<script>
(function(){var s=document.createElement('span');s.style.cssText='position:absolute;left:0;top:0;font-size:100px;font-family:"Liberation Sans",sans-serif;white-space:nowrap;visibility:hidden';s.textContent='\u6211\u56fd';document.body.appendChild(s);var w=s.getBoundingClientRect().width;document.body.removeChild(s);if(w<180){document.documentElement.className+=' nocjk';}})();
</script>
</body></html>
